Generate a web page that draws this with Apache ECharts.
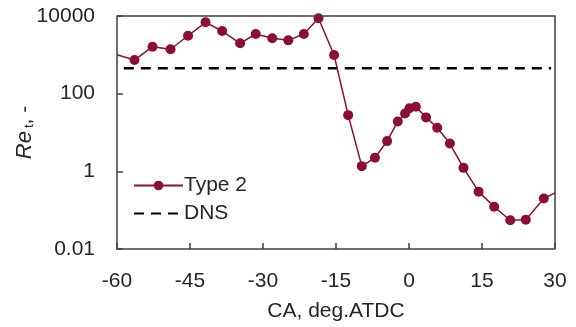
<!DOCTYPE html>
<html lang="en">
<head>
  <meta charset="UTF-8">
  <title>Re_t vs CA</title>
  <script src="https://cdn.jsdelivr.net/npm/echarts@6/dist/echarts.min.js"></script>
  <style>
    html, body { margin: 0; padding: 0; background: #fff; }
  </style>
</head>
<body>
    <div id="main" style="width: 576px;height:327px;"></div>
    <script type="text/javascript">
        // crank angle (deg ATDC) and turbulent Reynolds number
        var ca = [-60, -56.4, -52.7, -49.0, -45.4, -41.8, -38.4, -34.7, -31.5, -28.1, -24.8, -21.6, -18.6, -15.4,
                  -12.5, -9.7, -7.0, -4.5, -2.3, -0.8, 0.1, 1.4, 3.5, 5.8, 8.4, 11.2, 14.3, 17.5, 20.8, 24.0, 27.7, 30];
        var type2 = [1000, 735, 1620, 1390, 3100, 6880, 4100, 1980, 3440, 2660, 2360, 3440, 8730, 990,
                     28, 1.36, 2.23, 6.0, 19.3, 31, 42, 46, 24.5, 13.2, 5.2, 1.23, 0.30, 0.122, 0.055, 0.057, 0.20, 0.28];
        var dnsCa = [-58.6, 29.2];
        var dnsRe = [450, 450];
        var xTicks = [-60, -45, -30, -15, 0, 15, 30];
        var yTicks = [0.01, 1, 100, 10000];

        var font = 'Liberation Sans, Arial, sans-serif';
        var fs = 21;
        var txt = '#262626';
        var axisCol = '#404040';

        var type2Data = [];
        for (var i = 0; i < ca.length; i++) {
            var item = { value: [ca[i], type2[i]] };
            // end points sit on the plot border, no marker drawn there
            if (i === 0 || i === ca.length - 1) item.symbol = 'none';
            type2Data.push(item);
        }
        var dnsData = [];
        for (var j = 0; j < dnsCa.length; j++) dnsData.push([dnsCa[j], dnsRe[j]]);

        var myChart = echarts.init(document.getElementById('main'));

        var option = {
            animation: false,
            backgroundColor: '#fff',
            grid: { left: 117, right: 21, top: 16, bottom: 78, outerBoundsMode: 'none', containLabel: false },
            legend: {
                orient: 'vertical',
                left: 133,
                top: 175,
                padding: 0,
                itemWidth: 49,
                itemHeight: 12,
                itemGap: 7,
                textStyle: { fontFamily: font, fontSize: fs, color: txt, padding: [0, 0, 0, -4] },
                data: ['Type 2', { name: 'DNS', itemStyle: { opacity: 0 } }]
            },
            xAxis: {
                type: 'value',
                min: -60, max: 30, interval: 15,
                name: 'CA, deg.ATDC',
                nameLocation: 'middle',
                nameGap: 52,
                nameMoveOverlap: false,
                nameTextStyle: { fontFamily: font, fontSize: fs, color: txt },
                axisLine: { show: true, onZero: false, lineStyle: { color: axisCol, width: 1.5 } },
                axisTick: { show: true, inside: true, length: 6, lineStyle: { color: axisCol, width: 1.5 } },
                axisLabel: {
                    fontFamily: font, fontSize: fs, color: txt, margin: 22,
                    formatter: function (v) { return xTicks.indexOf(v) >= 0 ? String(v) : ''; }
                },
                splitLine: { show: false }
            },
            yAxis: {
                type: 'log',
                logBase: 100,
                min: 0.01, max: 10000,
                name: '{i|Re}{s|t}{n|, -}',
                nameLocation: 'middle',
                nameGap: 81,
                nameMoveOverlap: false,
                nameTextStyle: {
                    fontFamily: font, fontSize: fs, color: txt,
                    rich: {
                        i: { fontFamily: font, fontSize: 22, fontStyle: 'italic', color: txt },
                        s: { fontFamily: font, fontSize: 13, color: txt, verticalAlign: 'bottom', padding: [8, 0, 0, 3] },
                        n: { fontFamily: font, fontSize: fs, color: txt }
                    }
                },
                axisLine: { show: true, onZero: false, lineStyle: { color: axisCol, width: 1.5 } },
                axisTick: { show: true, inside: true, length: 6, lineStyle: { color: axisCol, width: 1.5 } },
                axisLabel: {
                    fontFamily: font, fontSize: fs, color: txt, margin: 22,
                    formatter: function (v) {
                        for (var k = 0; k < yTicks.length; k++) {
                            if (Math.abs(Math.log10(v) - Math.log10(yTicks[k])) < 1e-6) return String(yTicks[k]);
                        }
                        return '';
                    }
                },
                splitLine: { show: false }
            },
            series: [
                {
                    name: 'Type 2',
                    type: 'line',
                    data: type2Data,
                    symbol: 'circle',
                    symbolSize: 10,
                    color: '#8c0f33',
                    lineStyle: { color: '#8c0f33', width: 1.5 },
                    itemStyle: { color: '#8c0f33' },
                    z: 3
                },
                {
                    name: 'DNS',
                    type: 'line',
                    data: dnsData,
                    symbol: 'none',
                    color: '#000',
                    lineStyle: { color: '#000', width: 2.5, type: [10, 7] },
                    z: 2
                }
            ]
        };

        myChart.setOption(option);

        // frame on top and right, following the grid rectangle
        var tl = myChart.convertToPixel({ gridIndex: 0 }, [-60, 10000]);
        var br = myChart.convertToPixel({ gridIndex: 0 }, [30, 0.01]);
        myChart.setOption({
            graphic: [{
                type: 'polyline',
                shape: { points: [[tl[0], tl[1]], [br[0], tl[1]], [br[0], br[1]]] },
                style: { stroke: axisCol, lineWidth: 1.5, fill: null },
                z: 10
            }]
        });
    </script>
</body>
</html>
